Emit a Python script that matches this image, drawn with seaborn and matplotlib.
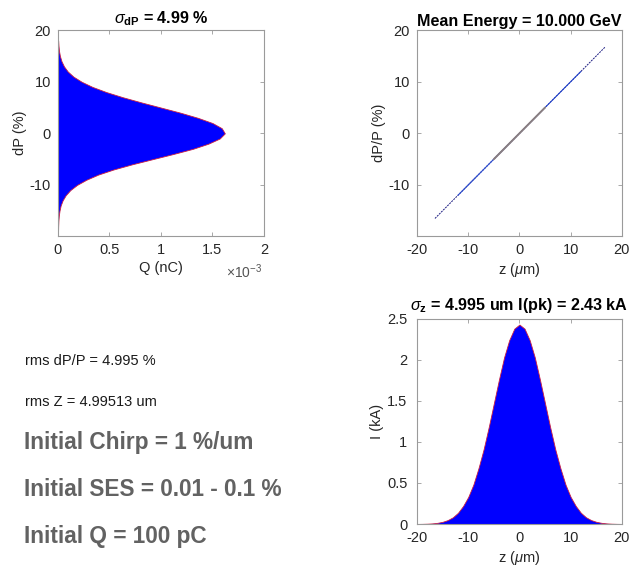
import numpy as np
import pandas as pd
import matplotlib
matplotlib.use("Agg")
import matplotlib.pyplot as plt
import seaborn as sns

# ---------------- data ----------------
# Energy spread histogram (top-left): dP (%) bin centres and charge per bin (x1e-3 nC)
dP_centers = [-19, -18, -17, -16, -15, -14, -13, -12, -11, -10, -9, -8, -7, -6, -5,
              -4, -3, -2, -1, 0, 1, 2, 3, 4, 5, 6, 7, 8, 9, 10, 11, 12, 13, 14,
              15, 16, 17, 18]
Q_milli_nC = [0.001, 0.002, 0.004, 0.008, 0.015, 0.026, 0.045, 0.075, 0.120, 0.185,
              0.275, 0.39, 0.54, 0.72, 0.92, 1.12, 1.31, 1.46, 1.57, 1.62, 1.59,
              1.50, 1.36, 1.19, 1.00, 0.81, 0.63, 0.47, 0.335, 0.23, 0.15, 0.095,
              0.058, 0.034, 0.019, 0.010, 0.005, 0.002]

# Longitudinal phase space (top-right): chirped line z (um) vs dP/P (%)
z_line = [-16.5, -12.0, -6.0, 0.0, 6.0, 12.0, 16.7]
dPP_line = [-16.5, -12.0, -6.0, 0.0, 6.0, 12.0, 16.7]
z_core = [-5.0, 0.0, 5.0]
dPP_core = [-5.0, 0.0, 5.0]

# Current profile (bottom-right): z (um) bin centres and current (kA)
z_centers = list(range(-20, 21))
I_kA = [0.0008, 0.0018, 0.0037, 0.0075, 0.0145, 0.027, 0.048, 0.082, 0.137, 0.22,
        0.33, 0.48, 0.68, 0.91, 1.18, 1.47, 1.76, 2.03, 2.24, 2.38, 2.43, 2.38,
        2.24, 2.03, 1.76, 1.47, 1.18, 0.91, 0.68, 0.48, 0.33, 0.22, 0.137, 0.082,
        0.048, 0.027, 0.0145, 0.0075, 0.0037, 0.0018, 0.0008]

title_tl = r"$\sigma_{\mathbf{dP}}$ = 4.99 %"
title_tr = "Mean Energy = 10.000 GeV"
title_br = r"$\sigma_{\mathbf{z}}$ = 4.995 um I(pk) = 2.43 kA"
small_texts = ["rms dP/P = 4.995 %", "rms Z = 4.99513 um"]
big_texts = ["Initial Chirp = 1 %/um", "Initial SES = 0.01 - 0.1 %", "Initial Q = 100 pC"]

# ---------------- style ----------------
sns.set_theme(style="white")
plt.rcParams["font.family"] = ["Liberation Sans", "DejaVu Sans"]
plt.rcParams["mathtext.fontset"] = "custom"
plt.rcParams["mathtext.rm"] = "Liberation Sans"
plt.rcParams["mathtext.it"] = "Liberation Sans:italic"
plt.rcParams["mathtext.bf"] = "Liberation Sans:bold"
plt.rcParams["axes.unicode_minus"] = False
plt.rcParams["xtick.direction"] = "in"
plt.rcParams["ytick.direction"] = "in"

TXT = "#262626"
SPINE = "#9a9a9a"

fig = plt.figure(figsize=(6.3, 5.7), dpi=100)
ax_tl = fig.add_axes([0.092, 0.586, 0.327, 0.361])
ax_tr = fig.add_axes([0.662, 0.586, 0.325, 0.361])
ax_br = fig.add_axes([0.662, 0.0807, 0.325, 0.360])


def style_axes(ax):
    for s in ax.spines.values():
        s.set_visible(True)
        s.set_color(SPINE)
        s.set_linewidth(0.8)
    ax.tick_params(axis="both", which="both", direction="in", length=3, width=0.6,
                   color=SPINE, labelcolor=TXT, labelsize=10.5, top=True, right=True,
                   bottom=True, left=True, pad=5)


# top-left: horizontal histogram of dP weighted by charge
dP_arr = np.array(dP_centers, dtype=float)
edges_dp = np.append(dP_arr - 0.5, dP_arr[-1] + 0.5).tolist()
df_tl = pd.DataFrame({"dP": dP_arr, "Q": np.array(Q_milli_nC) * 1e-3})
sns.histplot(data=df_tl, y="dP", weights="Q", bins=edges_dp, element="poly",
             color="#0000ff", alpha=1.0, edgecolor="#cc2040", linewidth=0.6, ax=ax_tl)
ax_tl.set_xlim(0, 2e-3)
ax_tl.set_ylim(-19.9, 20)
ax_tl.set_xticks([0, 0.5e-3, 1e-3, 1.5e-3, 2e-3])
ax_tl.set_xticklabels(["0", "0.5", "1", "1.5", "2"])
ax_tl.set_yticks([-10, 0, 10, 20])
ax_tl.set_xlabel("Q (nC)", fontsize=10.5, color=TXT, labelpad=3)
ax_tl.set_ylabel("dP (%)", fontsize=10.5, color=TXT, labelpad=2)
ax_tl.set_title(title_tl, fontsize=11.6, fontweight="bold", color="black", pad=5)
ax_tl.text(0.99, -0.175, r"$\times$10$^{-3}$", transform=ax_tl.transAxes,
           fontsize=10, color="#555555", ha="right", va="center")
style_axes(ax_tl)

# top-right: chirped longitudinal phase space
sns.lineplot(x=z_line, y=dPP_line, color="#1a1a80", linewidth=0.7, linestyle=(0, (2, 1)),
             ax=ax_tr)
sns.lineplot(x=z_line[1:-1], y=dPP_line[1:-1], color="#2a4bd0", linewidth=0.8, ax=ax_tr)
sns.lineplot(x=z_core, y=dPP_core, color="#8a7f80", linewidth=1.4, ax=ax_tr)
ax_tr.set_xlim(-20, 20)
ax_tr.set_ylim(-19.9, 20)
ax_tr.set_xticks([-20, -10, 0, 10, 20])
ax_tr.set_yticks([-10, 0, 10, 20])
ax_tr.set_xlabel(r"z ($\mu$m)", fontsize=10.5, color=TXT, labelpad=3)
ax_tr.set_ylabel("dP/P (%)", fontsize=10.5, color=TXT, labelpad=2)
ax_tr.set_title(title_tr, fontsize=11.6, fontweight="bold", color="black", pad=3)
style_axes(ax_tr)

# bottom-right: current profile
z_arr = np.array(z_centers, dtype=float)
edges_z = np.append(z_arr - 0.5, z_arr[-1] + 0.5).tolist()
df_br = pd.DataFrame({"z": z_arr, "I": I_kA})
sns.histplot(data=df_br, x="z", weights="I", bins=edges_z, element="poly",
             color="#0000ff", alpha=1.0, edgecolor="#cc2040", linewidth=0.6, ax=ax_br)
ax_br.set_xlim(-20, 20)
ax_br.set_ylim(0, 2.5)
ax_br.set_xticks([-20, -10, 0, 10, 20])
ax_br.set_yticks([0, 0.5, 1, 1.5, 2, 2.5])
ax_br.set_yticklabels(["0", "0.5", "1", "1.5", "2", "2.5"])
ax_br.set_xlabel(r"z ($\mu$m)", fontsize=10.5, color=TXT, labelpad=3)
ax_br.set_ylabel("I (kA)", fontsize=10.5, color=TXT, labelpad=2)
ax_br.set_title(title_br, fontsize=11.6, fontweight="bold", color="black", pad=6)
style_axes(ax_br)
ax_br.tick_params(axis="y", pad=7)

# annotation texts (bottom-left)
small_y = [361, 402]
for t, yp in zip(small_texts, small_y):
    fig.text(25 / 630, 1 - yp / 570, t, fontsize=10.5, color="#1a1a1a", ha="left", va="center")
big_y = [442, 490, 537]
for t, yp in zip(big_texts, big_y):
    fig.text(24 / 630, 1 - yp / 570, t, fontsize=16.3, fontweight="bold", color="#626262",
             ha="left", va="center")

fig.savefig("out.png", dpi=100)
